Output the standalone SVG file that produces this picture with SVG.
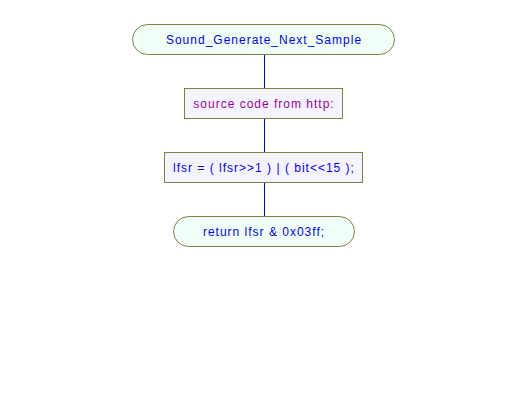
<svg xmlns="http://www.w3.org/2000/svg" width="528" height="416" viewBox="0 0 528 416">
<style>
.term{fill:#f0fff8;stroke:#808040;stroke-width:1}
.proc{fill:#f4f4ff;stroke:#808040;stroke-width:1}
.t{font-family:"Liberation Sans",Arial,sans-serif;font-size:12px;letter-spacing:1px;text-anchor:middle}
.blue{fill:#0000ff}
.purple{fill:#a000a0}
.conn{stroke:#0000ff;stroke-width:1;fill:none}
</style>
<rect x="0" y="0" width="528" height="416" fill="#ffffff"/>
<g id="connectors">
<line class="conn" x1="264.5" y1="54" x2="264.5" y2="88"/>
<line class="conn" x1="264.5" y1="118" x2="264.5" y2="152"/>
<line class="conn" x1="264.5" y1="182" x2="264.5" y2="216"/>
</g>
<g id="start">
<rect class="term" x="132.5" y="24.5" width="262" height="30" rx="15" ry="15"/>
<text class="t blue" x="264" y="44">Sound_Generate_Next_Sample</text>
</g>
<g id="comment">
<rect class="proc" x="184.5" y="88.5" width="158" height="30"/>
<text class="t purple" x="264" y="108">source code from http:</text>
</g>
<g id="assign">
<rect class="proc" x="164.5" y="152.5" width="198" height="30"/>
<text class="t blue" x="264" y="172">lfsr = ( lfsr&gt;&gt;1 ) | ( bit&lt;&lt;15 );</text>
</g>
<g id="end">
<rect class="term" x="173.5" y="216.5" width="181" height="30" rx="15" ry="15"/>
<text class="t blue" x="264" y="236">return lfsr &amp; 0x03ff;</text>
</g>
</svg>
